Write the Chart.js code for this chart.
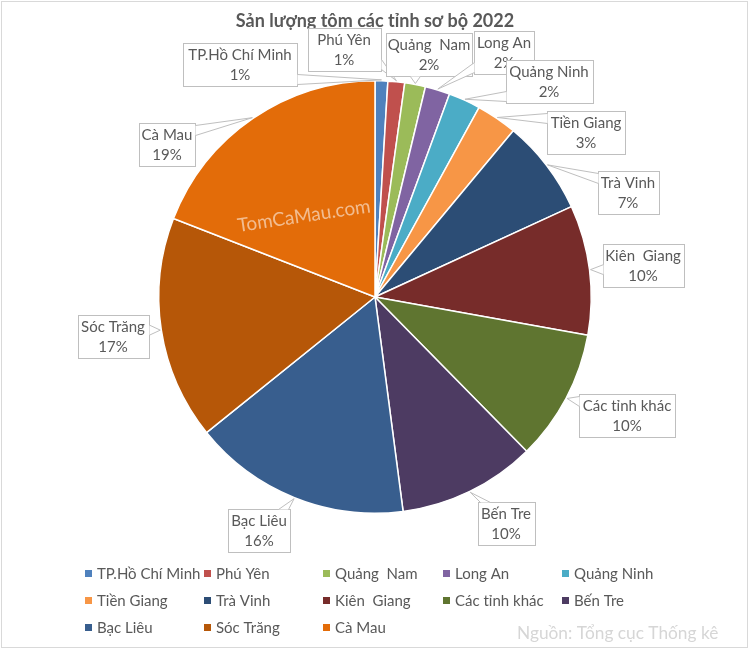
<!DOCTYPE html>
<html>
<head>
<meta charset="utf-8">
<script src="https://cdn.jsdelivr.net/npm/chart.js@4.4.0/dist/chart.umd.min.js"></script>
<style>
    html, body { margin: 0; padding: 0; background: #fff; }
    #wrap { width: 753px; height: 656px; }
</style>
</head>
<body>
<div id="wrap"><canvas id="grafico" width="753" height="656"></canvas></div>
<script>
// --- DADOS ---
const categorias = ['TP.Hồ Chí Minh', 'Phú Yên', 'Quảng  Nam', 'Long An', 'Quảng Ninh', 'Tiền Giang',
    'Trà Vinh', 'Kiên  Giang', 'Các tỉnh khác', 'Bến Tre', 'Bạc Liêu', 'Sóc Trăng', 'Cà Mau'];
const valores = [0.95, 1.25, 1.55, 1.85, 2.4, 3.05, 7.1, 9.7, 9.8, 10.3, 16.3, 16.7, 19.1];
const cores = ['#4F81BD', '#C0504D', '#9BBB59', '#8064A2', '#4BACC6', '#F79646',
    '#2C4D75', '#772C2A', '#5F7530', '#4D3B62', '#385E8E', '#B65708', '#E36C09'];
const titulo = 'Sản lượng tôm các tỉnh sơ bộ 2022';
const textoFonte = 'Nguồn: Tổng cục Thống kê';
const marcaDagua = 'TomCaMau.com';

// --- LAYOUT (centro e largura das caixas de rótulo, posicionadas à mão como no original) ---
const posRotulos = [
    [240, 64, 114], [344, 49, 73], [429, 54, 86], [504, 52, 60], [549, 81, 87], [586, 132, 78],
    [628, 192, 61], [643, 265, 81], [627, 415, 96], [506, 523, 57], [259, 530, 62], [113, 336, 71], [167, 144, 56]
];
const FONTE = '"Lato", "Noto Sans", sans-serif';
const COR_TEXTO = '#595959';
const COR_BORDA = '#BFBFBF';

function percentual(i) {
    const total = valores.reduce((a, b) => a + b, 0);
    return Math.round(valores[i] / total * 100) + '%';
}

// base da "setinha" do callout na borda da caixa mais próxima do ápice
function calcularSeta(x0, y0, x1, y1, px, py) {
    const dx = px < x0 ? x0 - px : (px > x1 ? px - x1 : 0);
    const dy = py < y0 ? y0 - py : (py > y1 ? py - y1 : 0);
    const meia = 5;
    if (dy >= dx) {
        const yb = py < y0 ? y0 : y1;
        const c = Math.min(Math.max(px, x0 + meia + 2), x1 - meia - 2);
        return [[c - meia, yb], [c + meia, yb]];
    }
    const xb = px < x0 ? x0 : x1;
    const c = Math.min(Math.max(py, y0 + meia + 2), y1 - meia - 2);
    return [[xb, c - meia], [xb, c + meia]];
}

const pluginDesenho = {
    id: 'desenhoExtra',
    beforeDraw(chart) {
        const ctx = chart.ctx;
        ctx.save();
        ctx.fillStyle = '#fff';
        ctx.fillRect(0, 0, chart.width, chart.height);
        ctx.restore();
    },
    afterDatasetsDraw(chart) {
        // marca d'água sobre a fatia de Cà Mau
        const ctx = chart.ctx;
        ctx.save();
        ctx.translate(304, 216);
        ctx.rotate(-8.5 * Math.PI / 180);
        ctx.font = '19px ' + FONTE;
        ctx.fillStyle = 'rgba(255,255,255,0.55)';
        ctx.textAlign = 'center';
        ctx.textBaseline = 'middle';
        ctx.fillText(marcaDagua, 0, 0);
        ctx.restore();
    },
    afterDraw(chart) {
        const ctx = chart.ctx;
        const arcos = chart.getDatasetMeta(0).data;
        ctx.save();

        // moldura
        ctx.strokeStyle = '#D9D9D9';
        ctx.lineWidth = 1;
        ctx.strokeRect(1.5, 1.5, 746, 646);

        // título
        ctx.font = 'bold 18px ' + FONTE;
        ctx.fillStyle = COR_TEXTO;
        ctx.textAlign = 'center';
        ctx.textBaseline = 'middle';
        ctx.fillText(titulo, 375, 21);

        // rótulos tipo "callout"
        ctx.font = '15px ' + FONTE;
        arcos.forEach((arco, i) => {
            const meio = (arco.startAngle + arco.endAngle) / 2;
            const px = arco.x + Math.cos(meio) * (arco.outerRadius + 1);
            const py = arco.y + Math.sin(meio) * (arco.outerRadius + 1);
            const [cx, cy, w] = posRotulos[i];
            const h = 43;
            const x0 = Math.round(cx - w / 2) + 0.5, y0 = Math.round(cy - h / 2) + 0.5;
            const x1 = x0 + w, y1 = y0 + h;

            ctx.fillStyle = '#fff';
            ctx.strokeStyle = COR_BORDA;
            ctx.lineWidth = 1;
            ctx.fillRect(x0, y0, w, h);
            ctx.strokeRect(x0, y0, w, h);

            const [a, b] = calcularSeta(x0, y0, x1, y1, px, py);
            ctx.beginPath();
            ctx.moveTo(a[0], a[1]);
            ctx.lineTo(px, py);
            ctx.lineTo(b[0], b[1]);
            ctx.closePath();
            ctx.fill();
            ctx.beginPath();
            ctx.moveTo(a[0], a[1]);
            ctx.lineTo(px, py);
            ctx.lineTo(b[0], b[1]);
            ctx.stroke();

            ctx.fillStyle = COR_TEXTO;
            ctx.fillText(categorias[i], cx, cy - 9);
            ctx.fillText(percentual(i), cx, cy + 11);
        });

        // legenda (grade 5 colunas)
        const colunas = [85, 204, 323, 443, 562];
        const linhas = [574, 601, 628];
        ctx.font = '15px ' + FONTE;
        ctx.textAlign = 'left';
        categorias.forEach((nome, i) => {
            const x = colunas[i % 5];
            const y = linhas[Math.floor(i / 5)];
            ctx.fillStyle = cores[i];
            ctx.fillRect(x, y - 4, 7, 7);
            ctx.fillStyle = COR_TEXTO;
            ctx.fillText(nome, x + 12, y);
        });

        // fonte dos dados
        ctx.font = '17.3px ' + FONTE;
        ctx.fillStyle = '#D6D6D6';
        ctx.fillText(textoFonte, 517, 633);
        ctx.restore();
    }
};

new Chart(document.getElementById('grafico'), {
    type: 'pie',
    data: {
        labels: categorias,
        datasets: [{
            data: valores,
            backgroundColor: cores,
            borderColor: '#fff',
            borderWidth: 1.5
        }]
    },
    options: {
        responsive: false,
        devicePixelRatio: 1,
        animation: false,
        layout: { padding: { left: 158, right: 161, top: 80, bottom: 142 } },
        plugins: {
            legend: { display: false },
            tooltip: { enabled: false },
            title: { display: false }
        }
    },
    plugins: [pluginDesenho]
});
</script>
</body>
</html>
